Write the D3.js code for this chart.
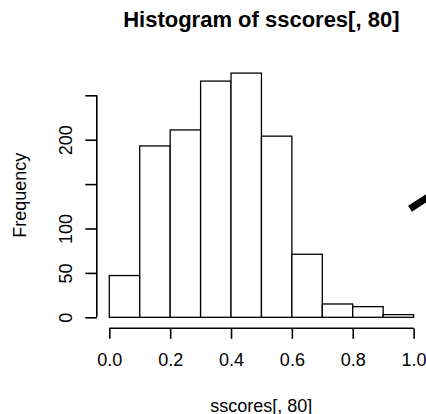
<!DOCTYPE html>
<html>
<head>
<meta charset="utf-8">
<script src="https://cdn.jsdelivr.net/npm/d3@7"></script>
<style>
  html, body { margin: 0; padding: 0; background: #fff; }
  svg { display: block; }
  text { font-family: "Liberation Sans", Arial, Helvetica, sans-serif; fill: #000; }
</style>
</head>
<body>
<script>
// Histogram bins (left edges, width 0.1) and their counts
const binStarts = [0.0, 0.1, 0.2, 0.3, 0.4, 0.5, 0.6, 0.7, 0.8, 0.9];
const binWidth = 0.1;
const counts = [47, 193, 211, 266, 275, 204, 71, 15, 12, 3];

// Axis ticks and their labels (R drops labels that would overlap)
const xTicks = [0.0, 0.2, 0.4, 0.6, 0.8, 1.0];
const xTickLabels = ["0.0", "0.2", "0.4", "0.6", "0.8", "1.0"];
const yTicks = [0, 50, 100, 150, 200, 250];
const yTickLabels = ["0", "50", "100", "", "200", ""];

const titleText = "Histogram of sscores[, 80]";
const xLabel = "sscores[, 80]";
const yLabel = "Frequency";

const W = 426, H = 414;
const svg = d3.select("body").append("svg")
  .attr("width", W).attr("height", H);

const x = d3.scaleLinear().domain([0, 1]).range([109.3, 413.6]);
const y = d3.scaleLinear().domain([0, 250]).range([317.3, 95.3]);

// Bars
svg.append("g").selectAll("rect")
  .data(binStarts.map((s, i) => ({ x0: s, x1: s + binWidth, n: counts[i] })))
  .join("rect")
  .attr("x", d => x(d.x0))
  .attr("y", d => y(d.n))
  .attr("width", d => x(d.x1) - x(d.x0))
  .attr("height", d => y(0) - y(d.n))
  .attr("fill", "#fff")
  .attr("stroke", "#000")
  .attr("stroke-width", 1.3);

// X axis (drawn at the bottom edge of the plot region)
const xAxis = d3.axisBottom(x)
  .tickValues(xTicks)
  .tickFormat((d, i) => xTickLabels[i])
  .tickSize(10.5)
  .tickSizeOuter(0)
  .tickPadding(20);
const gx = svg.append("g").attr("transform", "translate(0,328.3)").call(xAxis);
gx.select(".domain").attr("stroke", "#000").attr("stroke-width", 1.6)
  .attr("d", `M${x(0)},0H${x(1)}`);
gx.selectAll(".tick line").attr("stroke", "#000").attr("stroke-width", 1.6);
gx.selectAll(".tick text")
  .attr("y", null).attr("dy", null)
  .attr("transform", "translate(0,37.7)")
  .style("font-size", "18px")
  .style("font-family", '"Liberation Sans", Arial, sans-serif')
  .attr("fill", "#000");

// Y axis (drawn at the left edge of the plot region)
const yAxis = d3.axisLeft(y)
  .tickValues(yTicks)
  .tickFormat((d, i) => yTickLabels[i])
  .tickSize(11.5)
  .tickSizeOuter(0);
const gy = svg.append("g").attr("transform", "translate(96.8,0)").call(yAxis);
gy.select(".domain").attr("stroke", "#000").attr("stroke-width", 1.6)
  .attr("d", `M0,${y(0)}V${y(250)}`);
gy.selectAll(".tick line").attr("stroke", "#000").attr("stroke-width", 1.6);
gy.selectAll(".tick text")
  .attr("x", null).attr("dy", null)
  .attr("text-anchor", "middle")
  .attr("transform", "translate(-25.3,0) rotate(-90)")
  .style("font-size", "18px")
  .style("font-family", '"Liberation Sans", Arial, sans-serif')
  .attr("fill", "#000");

// Title and axis titles
svg.append("text")
  .attr("x", 261.3).attr("y", 27)
  .attr("text-anchor", "middle")
  .style("font-size", "22px")
  .style("font-weight", "bold")
  .text(titleText);

svg.append("text")
  .attr("x", 261.3).attr("y", 411.5)
  .attr("text-anchor", "middle")
  .style("font-size", "18px")
  .text(xLabel);

svg.append("text")
  .attr("transform", "translate(26,195.2) rotate(-90)")
  .attr("text-anchor", "middle")
  .style("font-size", "18px")
  .text(yLabel);

// Thick pen stroke running off the right edge
svg.append("line")
  .attr("x1", 410).attr("y1", 208.8)
  .attr("x2", 445).attr("y2", 186)
  .attr("stroke", "#000")
  .attr("stroke-width", 7)
  .attr("stroke-linecap", "butt");
</script>
</body>
</html>
